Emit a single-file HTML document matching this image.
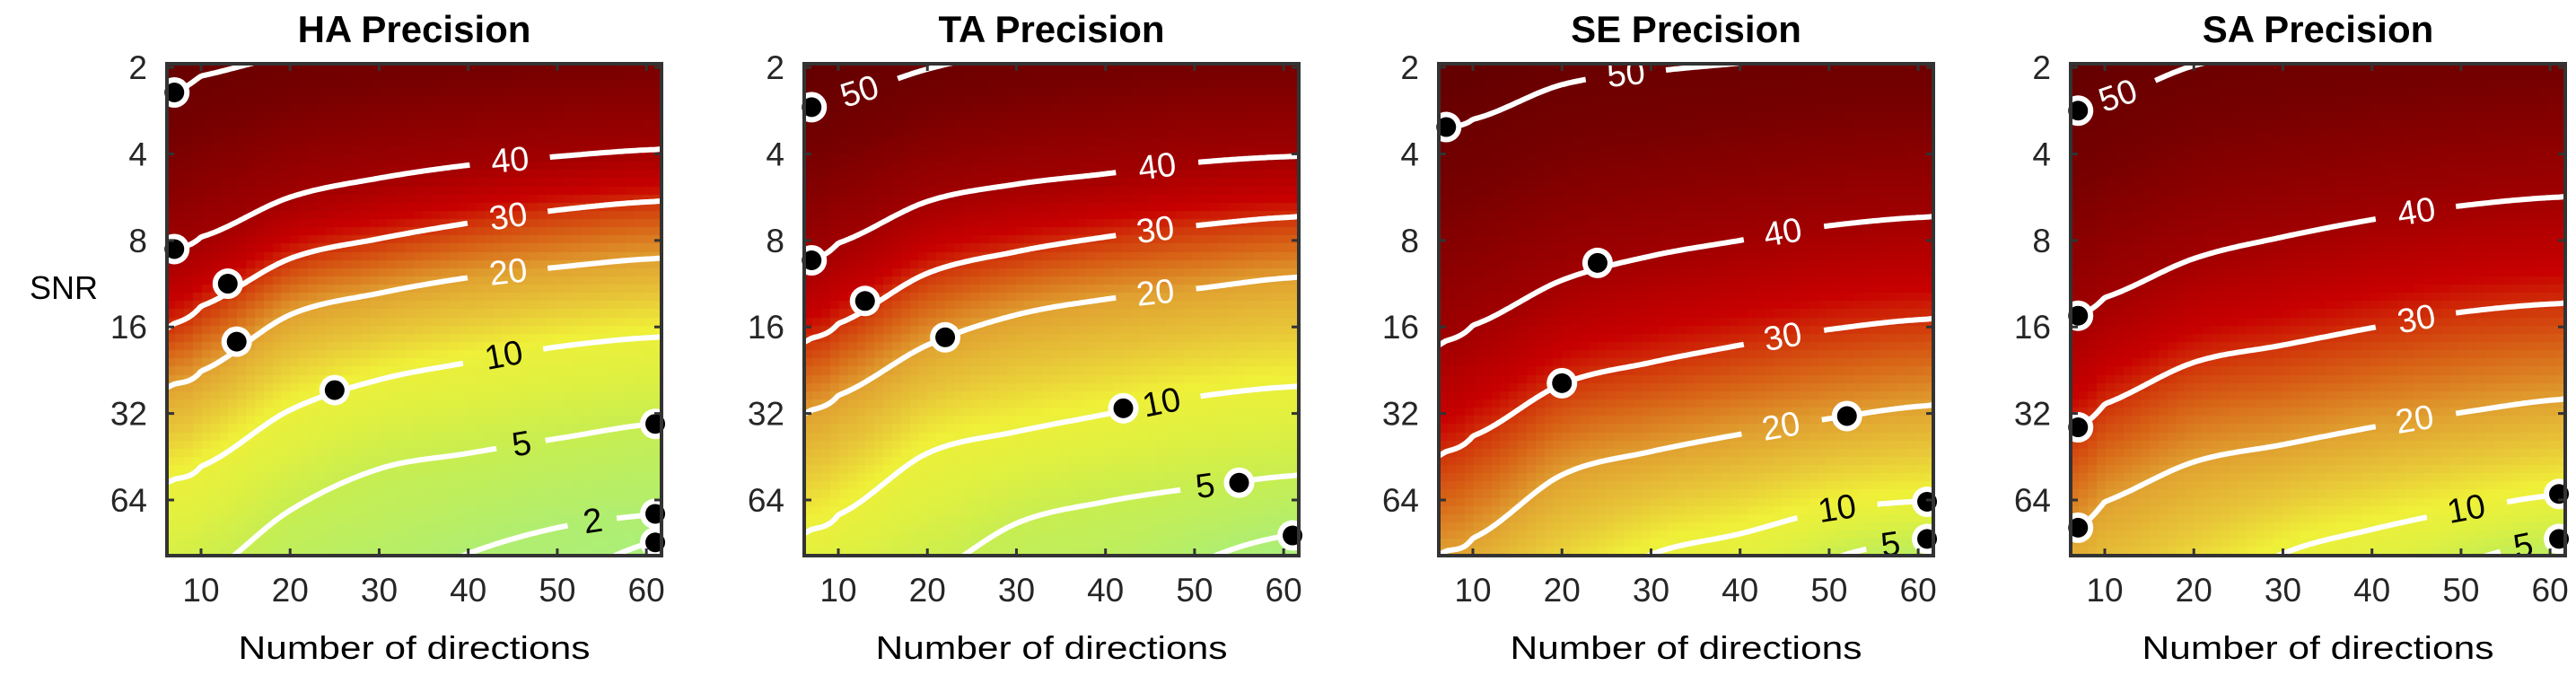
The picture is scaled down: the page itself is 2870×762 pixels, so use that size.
<!DOCTYPE html>
<html><head><meta charset="utf-8">
<style>
html,body{margin:0;padding:0;background:#fff;width:2870px;height:762px;overflow:hidden;}
#wrap{position:relative;width:2870px;height:762px;overflow:hidden;}
canvas{position:absolute;left:0;top:0;display:block;}
svg{position:absolute;left:0;top:0;display:block;overflow:hidden;}
text{font-family:"Liberation Sans",sans-serif;}
</style></head>
<body>
<div id="wrap">
<canvas id="cv" width="2870" height="762"></canvas>
<svg id="sv" width="2870" height="762" xmlns="http://www.w3.org/2000/svg"></svg>
</div>
<script>
// ---- data ----
const titles = ["HA Precision","TA Precision","SE Precision","SA Precision"];
const nodesN = [7,10,20,30,40,50,61];
const xTicks = [10,20,30,40,50,60];
const yTicks = [2,4,8,16,32,64];
const haLevels = [50,40,30,20,10,5,2,1];
const haCross = [
 [1.29,1.1,0.85,0.7,0.6,0.5,0.45],
 [3.1,2.96,2.5,2.28,2.13,2.03,1.95],
 [3.96,3.76,3.21,2.98,2.8,2.65,2.55],
 [4.66,4.51,3.86,3.61,3.43,3.31,3.21],
 [5.76,5.61,4.96,4.61,4.41,4.23,4.12],
 [7.1,6.9,6.12,5.64,5.46,5.29,5.12],
 [8.5,8.3,7.6,7.1,6.62,6.32,6.17],
 [10,9.8,9.2,8.6,7.8,7.0,6.48]];
const taLevels = [50,40,30,20,10,5,2];
const taCross = [
 [1.46,1.35,1.02,0.8,0.65,0.55,0.5],
 [3.23,3.03,2.55,2.35,2.23,2.1,2.03],
 [4.13,3.96,3.38,3.13,2.96,2.83,2.73],
 [4.96,4.79,4.21,3.86,3.68,3.56,3.43],
 [6.34,6.17,5.46,5.21,5.01,4.81,4.69],
 [7.5,7.3,6.9,6.27,6.02,5.86,5.72],
 [9,9,8.5,8,7.5,6.75,6.4]];
const seLevels = [50,40,30,20,10,5];
const seCross = [
 [1.69,1.6,1.2,1.05,0.95,0.85,0.8],
 [4.16,3.98,3.46,3.18,3.0,2.83,2.73],
 [5.44,5.26,4.66,4.41,4.21,4.03,3.91],
 [6.59,6.44,5.71,5.44,5.24,5.06,4.91],
 [8,7.8,7.2,6.63,6.39,6.12,6.01],
 [9,9,8.5,8,7.4,6.7,6.47]];
const saLevels = [50,40,30,20,10,5];
const saCross = [
 [1.5,1.38,0.98,0.8,0.7,0.6,0.55],
 [3.87,3.66,3.21,2.96,2.76,2.6,2.5],
 [5.16,4.89,4.41,4.21,4.01,3.83,3.73],
 [6.32,6.02,5.56,5.36,5.16,4.99,4.84],
 [8,7.8,7.2,6.62,6.34,6.12,5.94],
 [9.5,9.3,8.8,8.2,7.4,6.75,6.47]];
const haLabelN = [null,44.7,44.5,44.5,44,46,54,null];
const taLabelN = [12.4,45.8,45.6,45.6,46.3,51.2,null];
const seLabelN = [27.2,44.8,44.8,44.6,50.9,56.9];
const saLabelN = [11.5,45,45,44.8,50.6,57];
const haDots = [[7,1.29],[7,3.1],[13,3.5],[14,4.17],[25,4.73],[61,5.12],[61,6.16],[61,6.49]];
const taDots = [[7,1.46],[7,3.23],[13,3.7],[22,4.12],[42,4.94],[55,5.8],[61,6.41]];
const seDots = [[7,1.69],[24,3.26],[20,4.65],[52,5.03],[61,6.02],[61,6.45]];
const saDots = [[7,1.5],[7,3.87],[7,5.16],[7,6.32],[61,5.93],[61,6.45]];

const panels = [
 {key:"ha",levels:haLevels,cross:haCross,lab:haLabelN,dots:haDots,left:186},
 {key:"ta",levels:taLevels,cross:taCross,lab:taLabelN,dots:taDots,left:896},
 {key:"se",levels:seLevels,cross:seCross,lab:seLabelN,dots:seDots,left:1603},
 {key:"sa",levels:saLevels,cross:saCross,lab:saLabelN,dots:saDots,left:2307}];

const W=551, TOP=71, BOT=619, H=BOT-TOP;
const XMIN=6.17, XMAX=61.7, YMIN=0.958, YMAX=6.643;
function xPix(p,n){return p.left+(n-XMIN)/(XMAX-XMIN)*W;}
function yPix(l){return TOP+(l-YMIN)/(YMAX-YMIN)*H;}

function interpN(arr,n){
  let i=0; while(i<nodesN.length-2 && n>nodesN[i+1]) i++;
  const x0=nodesN[i],x1=nodesN[i+1]; let t=(n-x0)/(x1-x0);
  const p0=arr[Math.max(i-1,0)],p1=arr[i],p2=arr[i+1],p3=arr[Math.min(i+2,arr.length-1)];
  if(t<0||t>1) return p1+(p2-p1)*t;
  const t2=t*t,t3=t2*t;
  return 0.5*((2*p1)+(-p0+p2)*t+(2*p0-5*p1+4*p2-p3)*t2+(-p0+3*p1-3*p2+p3)*t3);
}
function value(p,n,l){
  const ys=p.cross.map(a=>interpN(a,n)); const lv=p.levels;
  if(l<=ys[0]){return Math.min(56,lv[0]+(ys[0]-l)*6);}
  for(let k=0;k<ys.length-1;k++){
    if(l<=ys[k+1]){return lv[k]+(lv[k+1]-lv[k])*(l-ys[k])/(ys[k+1]-ys[k]);}
  }
  const k=ys.length-1; const s=(lv[k-1]-lv[k])/Math.max(0.3,ys[k]-ys[k-1]);
  return Math.max(0,lv[k]-(l-ys[k])*s);
}
const cmV=[0,2,5,8,11,15,20,25,30,33,40,47,53];
const cmC=["#a8f080","#b0ee70","#c8ee50","#e0f040","#f0f038","#e8c838","#e0a030","#d86818","#d03008","#c80000","#a00000","#760000","#640000"];
function hx(c){return [parseInt(c.substr(1,2),16),parseInt(c.substr(3,2),16),parseInt(c.substr(5,2),16)];}
function color(v){
  if(v<=cmV[0]) return cmC[0]; if(v>=cmV[cmV.length-1]) return cmC[cmC.length-1];
  let i=0; while(v>cmV[i+1]) i++;
  const t=(v-cmV[i])/(cmV[i+1]-cmV[i]); const a=hx(cmC[i]),b=hx(cmC[i+1]);
  return "rgb("+a.map((q,j)=>Math.round(q+(b[j]-q)*t)).join(",")+")";
}

const ctx=document.getElementById('cv').getContext('2d');
const sv=document.getElementById('sv');
const NS="http://www.w3.org/2000/svg";
function mk(tag,attrs,parent){const e=document.createElementNS(NS,tag);for(const k in attrs)e.setAttribute(k,attrs[k]);(parent||sv).appendChild(e);return e;}

const snr=mk('text',{x:33,y:333,'font-size':36,fill:'#000'});


snr.textContent="SNR";

panels.forEach((p,pi)=>{
  const g=mk('g',{});
  
  
  const nc=56, nr=60;
  for(let i=0;i<nc;i++){for(let j=0;j<nr;j++){
    const n0=XMIN+(XMAX-XMIN)*i/nc, n1=XMIN+(XMAX-XMIN)*(i+1)/nc;
    const l0=YMIN+(YMAX-YMIN)*j/nr, l1=YMIN+(YMAX-YMIN)*(j+1)/nr;
    ctx.fillStyle=color(value(p,(n0+n1)/2,(l0+l1)/2));
    const x0=Math.floor(xPix(p,n0)),x1=Math.ceil(xPix(p,n1)),y0=Math.floor(yPix(l0)),y1=Math.ceil(yPix(l1));
    ctx.fillRect(x0,y0,x1-x0,y1-y0);
  }}
  const cid='clip'+p.key;
  const defs=mk('defs',{},g); const cp=mk('clipPath',{id:cid},defs);
  mk('rect',{x:p.left,y:TOP,width:W,height:H},cp);
  const cg=mk('g',{'clip-path':'url(#'+cid+')'},g);
  p.levels.forEach((lv,k)=>{
    const labN=p.lab[k];
    let lx=null,ly=null,ang=0;
    if(labN!=null){lx=xPix(p,labN);ly=yPix(interpN(p.cross[k],labN));
      const d=yPix(interpN(p.cross[k],labN+1))-yPix(interpN(p.cross[k],labN-1));
      ang=Math.atan2(d,xPix(p,labN+1)-xPix(p,labN-1))*180/Math.PI;}
    const gap=(lv>=10?44:26);
    let segs=[],cur=[];
    for(let n=XMIN-0.5;n<=XMAX+0.5;n+=0.25){
      const X=xPix(p,n),Y=yPix(interpN(p.cross[k],n));
      const out=(Y<TOP-12||Y>BOT+12);
      if(out || (lx!=null && Math.hypot(X-lx,Y-ly)<gap)){if(cur.length>1)segs.push(cur);cur=[];continue;}
      cur.push(X.toFixed(1)+","+Y.toFixed(1));
    }
    if(cur.length>1)segs.push(cur);
    segs.forEach(s=>{
      const pl=mk('polyline',{points:s.join(" "),fill:'none',stroke:'#fff','stroke-width':6,'stroke-linejoin':'round'},cg);
      
      
    });
    if(lx!=null && ly>TOP && ly<BOT){
      const t=mk('text',{x:lx,y:ly,'font-size':38,'text-anchor':'middle','dominant-baseline':'central',fill:(lv<=10?'#000':'#fff'),transform:'rotate('+ang.toFixed(1)+' '+lx.toFixed(1)+' '+ly.toFixed(1)+')'},cg);
      
      
      t.textContent=String(lv);
    }
  });
  p.dots.forEach(d=>{
    const X=xPix(p,d[0]),Y=yPix(d[1]);
    const w=mk('circle',{cx:X,cy:Y,r:17,fill:'#fff'},g);
    
    
    const b=mk('circle',{cx:X,cy:Y,r:11,fill:'#000'},g);
    
    
  });
  const box=mk('rect',{x:p.left,y:TOP,width:W,height:H,fill:'none',stroke:'#333','stroke-width':4},g);
  
  
  xTicks.forEach(t=>{
    const X=xPix(p,t);
    mk('line',{x1:X,x2:X,y1:BOT,y2:BOT-8,stroke:'#333','stroke-width':3},g);
    mk('line',{x1:X,x2:X,y1:TOP,y2:TOP+8,stroke:'#333','stroke-width':3},g);
    const tl=mk('text',{x:X,y:670,'font-size':37,'text-anchor':'middle',fill:'#262626'},g);
    
    
    tl.textContent=t;
  });
  yTicks.forEach(t=>{
    const Y=yPix(Math.log2(t));
    mk('line',{x1:p.left,x2:p.left+8,y1:Y,y2:Y,stroke:'#333','stroke-width':3},g);
    mk('line',{x1:p.left+W,x2:p.left+W-8,y1:Y,y2:Y,stroke:'#333','stroke-width':3},g);
    const tl=mk('text',{x:p.left-22,y:Y+13,'font-size':37,'text-anchor':'end',fill:'#262626'},g);
    
    
    tl.textContent=t;
  });
  const cx=p.left+W/2;
  const tt=mk('text',{x:cx,y:47,'font-size':42,'font-weight':'bold','text-anchor':'middle',fill:'#000'},g);
  
  
  tt.textContent=titles[pi];
  const xl=mk('text',{x:cx,y:734,'font-size':36,'text-anchor':'middle',fill:'#000',textLength:392,lengthAdjust:'spacingAndGlyphs'},g);
  
  
  xl.textContent="Number of directions";
});
</script>
</body></html>
